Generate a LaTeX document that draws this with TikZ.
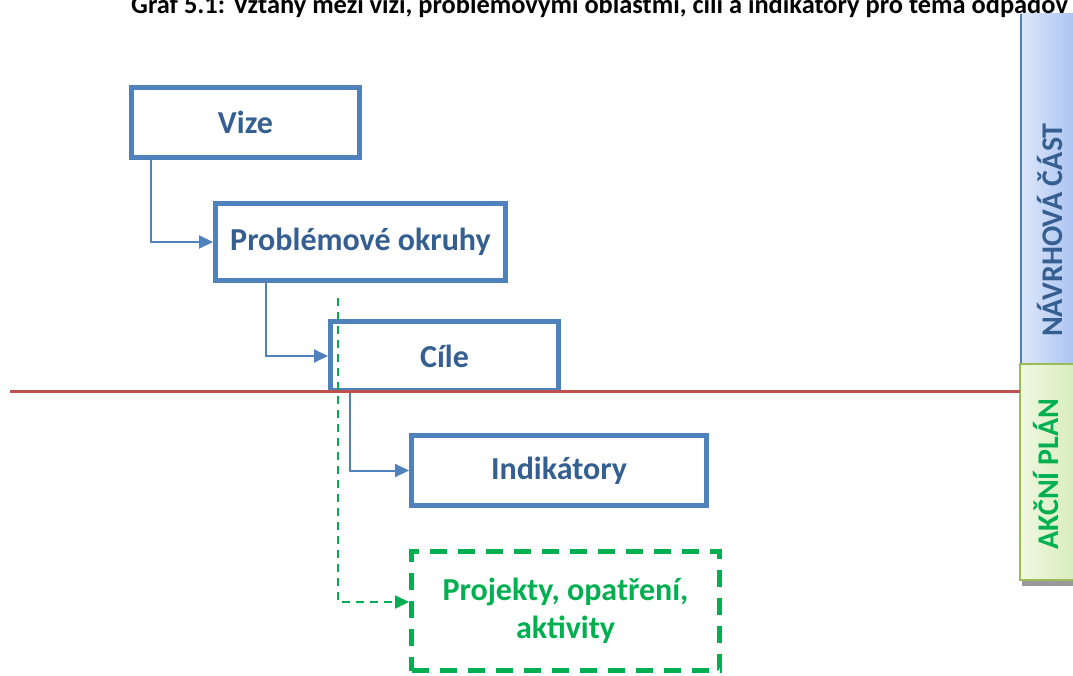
\documentclass[tikz,border=0pt]{standalone}
\usepackage{fontspec}
\setmainfont{Carlito}
\usetikzlibrary{arrows.meta}

\definecolor{boxblue}{HTML}{4F81BD}
\definecolor{textblue}{HTML}{365F91}
\definecolor{actgreen}{HTML}{00B050}
\definecolor{cutred}{HTML}{C0504D}
\definecolor{barolive}{HTML}{9BBB59}
\definecolor{barbluel}{HTML}{DDE7FA}
\definecolor{barbluer}{HTML}{A6C0F2}
\definecolor{bargreenl}{HTML}{F0F8E2}
\definecolor{bargreenr}{HTML}{D3EAB5}

\begin{document}
\begin{tikzpicture}[x=1pt,y=-1pt,
  box/.style={draw=boxblue,line width=5pt,fill=white,text=textblue,
    font=\fontsize{32}{38}\selectfont\bfseries,inner sep=0pt},
  conn/.style={draw=boxblue,line width=2pt,-{Triangle[length=14pt,width=13pt]}},
  gconn/.style={draw=actgreen,line width=2pt,dash pattern=on 8pt off 6pt,
    -{Triangle[length=14pt,width=13pt]}},
  side/.style={font=\fontsize{30}{34}\selectfont\bfseries,rotate=90}]

  \useasboundingbox (0,0) rectangle (1073,676);
  \clip (0,0) rectangle (1073,676);

  % Side bars
  \shade[left color=barbluel,right color=barbluer]
    (1021,14) rectangle (1080,372);
  \draw[boxblue,line width=1.5pt] (1021,14) -- (1021,372);
  \node[side,text=textblue] (navrh) at (1050,230) {NÁVRHOVÁ ČÁST};

  \fill[black!40] (1022,580) rectangle (1080,586);
  \shade[left color=bargreenl,right color=bargreenr,
    draw=barolive,line width=2pt] (1020,364) rectangle (1085,580);
  \node[side,text=actgreen] (akcni) at (1046,474) {AKČNÍ PLÁN};

  % Title
  \node[anchor=base west,inner sep=0pt,font=\fontsize{26.4}{31}\selectfont\bfseries]
    (title) at (131,14) {Graf 5.1: Vztahy mezi vizí, problémovými oblastmi, cíli a indikátory pro téma odpadov};

  % Boxes
  \node[box,minimum width=228pt,minimum height=70pt] (vize) at (245.5,122.5) {Vize};
  \node[box,minimum width=290pt,minimum height=77pt] (okruhy) at (360.5,242) {Problémové okruhy};
  \node[box,minimum width=228pt,minimum height=69pt] (cile) at (444.5,356) {Cíle};
  \node[box,minimum width=295pt,minimum height=70pt] (indik) at (559,470.5) {Indikátory};
  \node[box,draw=actgreen,text=actgreen,dash pattern=on 17pt off 11pt,
    minimum width=308pt,minimum height=119pt,align=center] (proj) at (565.5,611)
    {Projekty, opatření,\\aktivity};

  % Connectors
  \draw[conn] ([xshift=22pt]vize.south west) |- (okruhy.west);
  \draw[conn] ([xshift=53pt]okruhy.south west) |- (cile.west);
  \draw[conn] ([xshift=22pt]cile.south west) |- (indik.west);

  \coordinate (gstart) at (338,298);
  \draw[gconn] (gstart) |- ([yshift=9pt]proj.west);

  % Cut line
  \coordinate (cutl) at (10,391);
  \coordinate (cutr) at (1020,391);
  \draw[cutred,line width=3pt] (cutl) -- (cutr);

\end{tikzpicture}
\end{document}
